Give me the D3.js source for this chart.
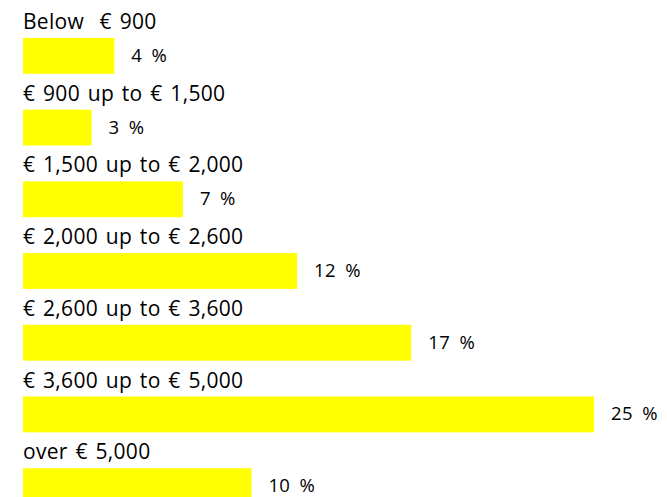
<!DOCTYPE html>
<html>
<head>
<meta charset="utf-8">
<script src="https://cdn.jsdelivr.net/npm/d3@7"></script>
<style>
  html, body { margin: 0; padding: 0; background: #fff; }
  svg { display: block; }
  .cat { font-family: "Open Sans", Lato, sans-serif; font-size: 21px; letter-spacing: 0.3px; word-spacing: 2px; fill: #000; }
  .val { font-family: "Open Sans", Lato, sans-serif; font-size: 18.5px; letter-spacing: 0.4px; word-spacing: 4px; fill: #000; }
</style>
</head>
<body>
<div id="chart"></div>
<script>
var categories = [
  "Below  € 900",
  "€ 900 up to € 1,500",
  "€ 1,500 up to € 2,000",
  "€ 2,000 up to € 2,600",
  "€ 2,600 up to € 3,600",
  "€ 3,600 up to € 5,000",
  "over € 5,000"
];
var shares = [4, 3, 7, 12, 17, 25, 10];

var width = 667, height = 497;

var svg = d3.select('#chart').append('svg')
  .attr('width', width)
  .attr('height', height);

var x = d3.scaleLinear()
  .domain([0, 25])
  .range([23, 594]);

var y = d3.scaleBand()
  .domain(categories)
  .range([20, 522])
  .paddingInner(0.5)
  .paddingOuter(0.25);

var rows = svg.selectAll('g.row')
  .data(categories)
  .join('g')
  .attr('class', 'row');

rows.append('rect')
  .attr('x', x(0))
  .attr('y', d => y(d))
  .attr('width', (d, i) => x(shares[i]) - x(0))
  .attr('height', y.bandwidth())
  .attr('fill', '#ffff00');

// category caption above each bar
rows.append('text')
  .attr('class', 'cat')
  .attr('x', x(0))
  .attr('y', d => y(d) - 9)
  .style('white-space', 'pre')
  .text(d => d);

// percent label right of bar
rows.append('text')
  .attr('class', 'val')
  .attr('x', (d, i) => x(shares[i]) + 17)
  .attr('y', d => y(d) + y.bandwidth() / 2 + 6)
  .text((d, i) => shares[i] + ' %');
</script>
</body>
</html>
